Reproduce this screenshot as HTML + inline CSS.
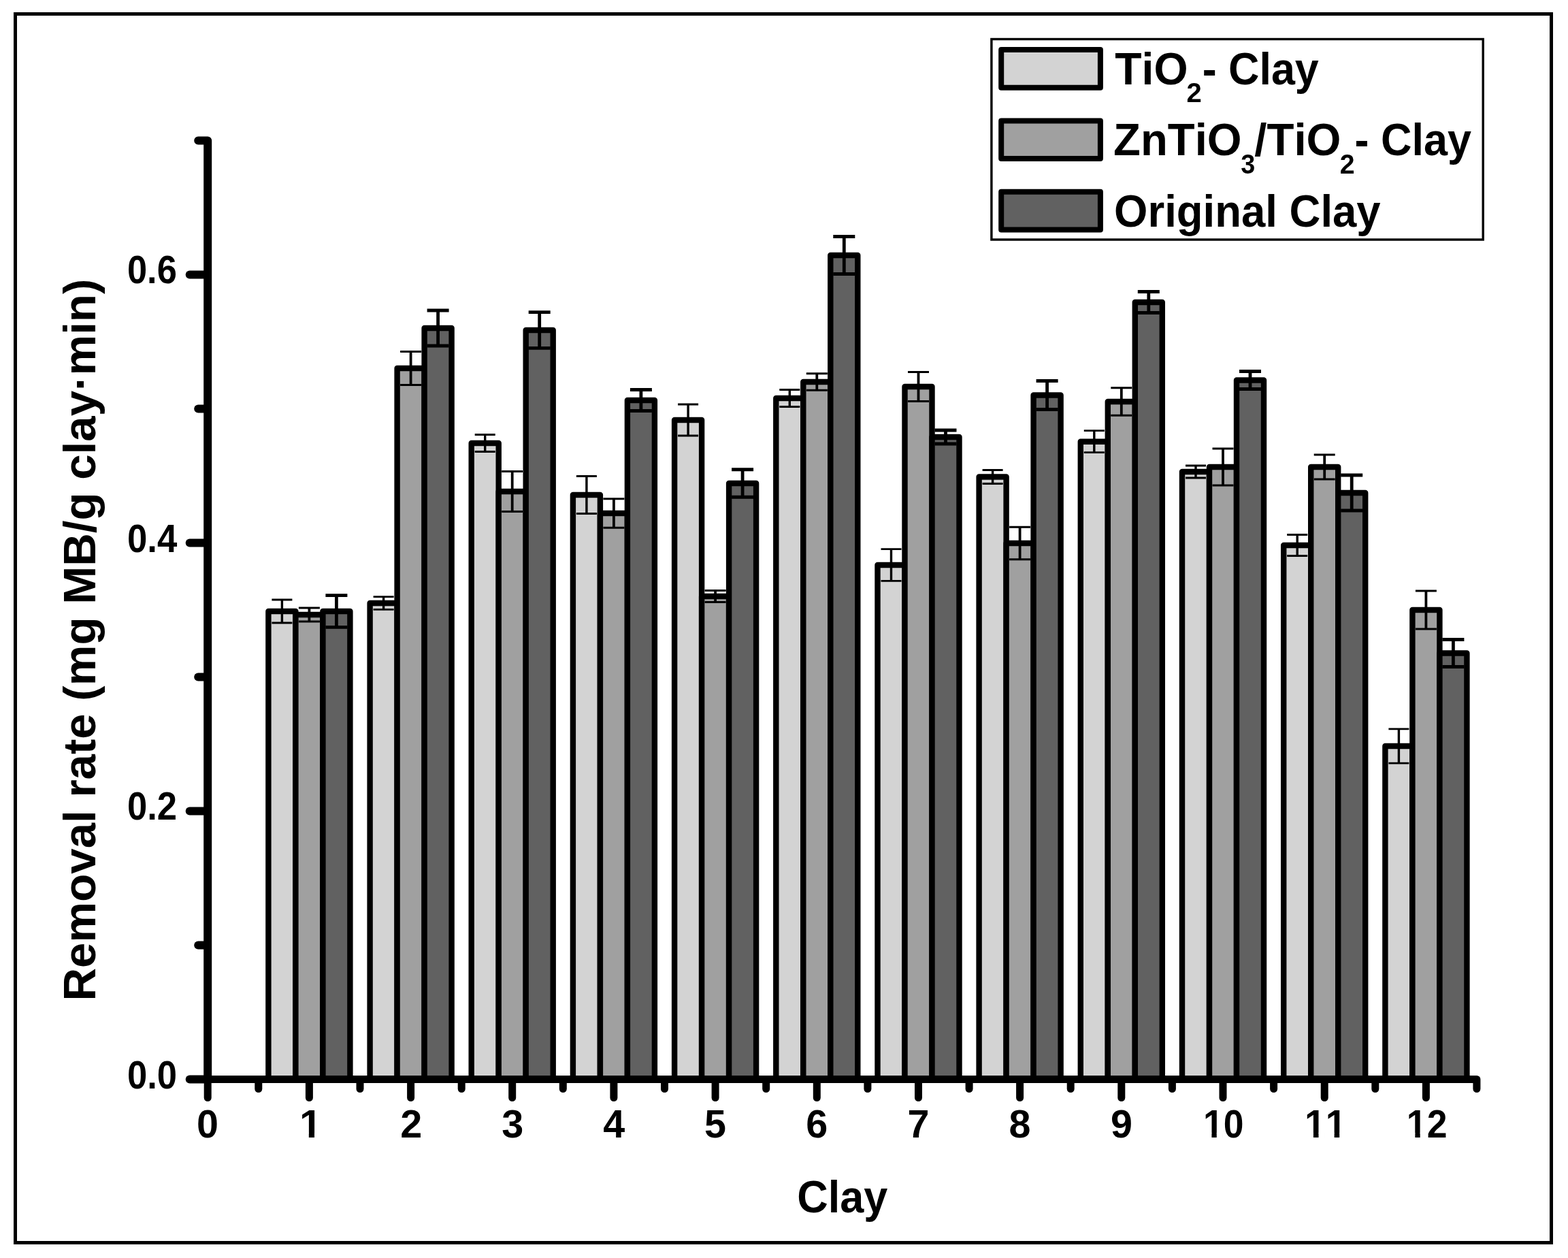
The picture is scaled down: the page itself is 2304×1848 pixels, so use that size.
<!DOCTYPE html>
<html><head><meta charset="utf-8"><title>Removal rate chart</title>
<style>html,body{margin:0;padding:0;background:#fff;}svg{display:block;}
text{font-family:"Liberation Sans",Arial,sans-serif;font-weight:bold;fill:#000;font-kerning:none;}</style></head><body>
<svg width="2304" height="1848" viewBox="0 0 2304 1848">
<rect x="0" y="0" width="2304" height="1848" fill="#fff"/>
<rect x="22.5" y="20.5" width="2257" height="1805" fill="none" stroke="#000" stroke-width="5"/>
<g stroke="#000" stroke-width="8.4" stroke-linejoin="round">
<rect x="394.4" y="898.0" width="40.0" height="687.5" fill="#d3d3d3"/>
<rect x="434.4" y="903.0" width="40.0" height="682.5" fill="#a0a0a0"/>
<rect x="474.4" y="898.0" width="40.0" height="687.5" fill="#616161"/>
<rect x="543.6" y="886.0" width="40.0" height="699.5" fill="#d3d3d3"/>
<rect x="583.6" y="541.0" width="40.0" height="1044.5" fill="#a0a0a0"/>
<rect x="623.6" y="482.0" width="40.0" height="1103.5" fill="#616161"/>
<rect x="692.7" y="651.0" width="40.0" height="934.5" fill="#d3d3d3"/>
<rect x="732.7" y="722.0" width="40.0" height="863.5" fill="#a0a0a0"/>
<rect x="772.7" y="485.0" width="40.0" height="1100.5" fill="#616161"/>
<rect x="841.9" y="727.0" width="40.0" height="858.5" fill="#d3d3d3"/>
<rect x="881.9" y="754.0" width="40.0" height="831.5" fill="#a0a0a0"/>
<rect x="921.9" y="588.0" width="40.0" height="997.5" fill="#616161"/>
<rect x="991.1" y="617.0" width="40.0" height="968.5" fill="#d3d3d3"/>
<rect x="1031.1" y="876.0" width="40.0" height="709.5" fill="#a0a0a0"/>
<rect x="1071.1" y="710.0" width="40.0" height="875.5" fill="#616161"/>
<rect x="1140.3" y="585.0" width="40.0" height="1000.5" fill="#d3d3d3"/>
<rect x="1180.3" y="561.0" width="40.0" height="1024.5" fill="#a0a0a0"/>
<rect x="1220.3" y="375.0" width="40.0" height="1210.5" fill="#616161"/>
<rect x="1289.5" y="830.0" width="40.0" height="755.5" fill="#d3d3d3"/>
<rect x="1329.5" y="568.0" width="40.0" height="1017.5" fill="#a0a0a0"/>
<rect x="1369.5" y="642.0" width="40.0" height="943.5" fill="#616161"/>
<rect x="1438.6" y="700.5" width="40.0" height="885.0" fill="#d3d3d3"/>
<rect x="1478.6" y="798.0" width="40.0" height="787.5" fill="#a0a0a0"/>
<rect x="1518.6" y="580.5" width="40.0" height="1005.0" fill="#616161"/>
<rect x="1587.8" y="648.7" width="40.0" height="936.8" fill="#d3d3d3"/>
<rect x="1627.8" y="590.0" width="40.0" height="995.5" fill="#a0a0a0"/>
<rect x="1667.8" y="444.0" width="40.0" height="1141.5" fill="#616161"/>
<rect x="1737.0" y="693.0" width="40.0" height="892.5" fill="#d3d3d3"/>
<rect x="1777.0" y="686.0" width="40.0" height="899.5" fill="#a0a0a0"/>
<rect x="1817.0" y="558.5" width="40.0" height="1027.0" fill="#616161"/>
<rect x="1886.2" y="801.0" width="40.0" height="784.5" fill="#d3d3d3"/>
<rect x="1926.2" y="686.0" width="40.0" height="899.5" fill="#a0a0a0"/>
<rect x="1966.2" y="724.0" width="40.0" height="861.5" fill="#616161"/>
<rect x="2035.4" y="1096.0" width="40.0" height="489.5" fill="#d3d3d3"/>
<rect x="2075.4" y="896.0" width="40.0" height="689.5" fill="#a0a0a0"/>
<rect x="2115.4" y="959.5" width="40.0" height="626.0" fill="#616161"/>
</g>
<g stroke="#000" fill="none">
<path stroke-width="3.4" d="M414.4 881.0V915.0"/><path stroke-width="2.8" d="M399.4 881.0H429.4M399.4 915.0H429.4"/>
<path stroke-width="3.4" d="M563.6 876.7V895.3"/><path stroke-width="2.8" d="M548.6 876.7H578.6M548.6 895.3H578.6"/>
<path stroke-width="3.4" d="M712.7 638.5V663.5"/><path stroke-width="2.8" d="M697.7 638.5H727.7M697.7 663.5H727.7"/>
<path stroke-width="3.4" d="M861.9 699.5V754.5"/><path stroke-width="2.8" d="M846.9 699.5H876.9M846.9 754.5H876.9"/>
<path stroke-width="3.4" d="M1011.1 594.0V640.0"/><path stroke-width="2.8" d="M996.1 594.0H1026.1M996.1 640.0H1026.1"/>
<path stroke-width="3.4" d="M1160.3 572.5V597.5"/><path stroke-width="2.8" d="M1145.3 572.5H1175.3M1145.3 597.5H1175.3"/>
<path stroke-width="3.4" d="M1309.5 806.6V853.4"/><path stroke-width="2.8" d="M1294.5 806.6H1324.5M1294.5 853.4H1324.5"/>
<path stroke-width="3.4" d="M1458.6 690.5V710.5"/><path stroke-width="2.8" d="M1443.6 690.5H1473.6M1443.6 710.5H1473.6"/>
<path stroke-width="3.4" d="M1607.8 632.7V664.7"/><path stroke-width="2.8" d="M1592.8 632.7H1622.8M1592.8 664.7H1622.8"/>
<path stroke-width="3.4" d="M1757.0 684.0V702.0"/><path stroke-width="2.8" d="M1742.0 684.0H1772.0M1742.0 702.0H1772.0"/>
<path stroke-width="3.4" d="M1906.2 785.5V816.5"/><path stroke-width="2.8" d="M1891.2 785.5H1921.2M1891.2 816.5H1921.2"/>
<path stroke-width="3.4" d="M2055.4 1070.8V1121.2"/><path stroke-width="2.8" d="M2040.4 1070.8H2070.4M2040.4 1121.2H2070.4"/>
</g>
<g stroke="#000" fill="none">
<path stroke-width="3.8" d="M454.4 893.0V913.0"/><path stroke-width="2.9" d="M438.9 893.0H469.9M438.9 913.0H469.9"/>
<path stroke-width="3.8" d="M603.6 516.5V565.5"/><path stroke-width="2.9" d="M588.1 516.5H619.1M588.1 565.5H619.1"/>
<path stroke-width="3.8" d="M752.7 692.5V751.5"/><path stroke-width="2.9" d="M737.2 692.5H768.2M737.2 751.5H768.2"/>
<path stroke-width="3.8" d="M901.9 732.7V775.3"/><path stroke-width="2.9" d="M886.4 732.7H917.4M886.4 775.3H917.4"/>
<path stroke-width="3.8" d="M1051.1 867.5V884.5"/><path stroke-width="2.9" d="M1035.6 867.5H1066.6M1035.6 884.5H1066.6"/>
<path stroke-width="3.8" d="M1200.3 548.7V573.3"/><path stroke-width="2.9" d="M1184.8 548.7H1215.8M1184.8 573.3H1215.8"/>
<path stroke-width="3.8" d="M1349.5 546.5V589.5"/><path stroke-width="2.9" d="M1334.0 546.5H1365.0M1334.0 589.5H1365.0"/>
<path stroke-width="3.8" d="M1498.6 774.3V821.7"/><path stroke-width="2.9" d="M1483.1 774.3H1514.1M1483.1 821.7H1514.1"/>
<path stroke-width="3.8" d="M1647.8 569.7V610.3"/><path stroke-width="2.9" d="M1632.3 569.7H1663.3M1632.3 610.3H1663.3"/>
<path stroke-width="3.8" d="M1797.0 659.0V713.0"/><path stroke-width="2.9" d="M1781.5 659.0H1812.5M1781.5 713.0H1812.5"/>
<path stroke-width="3.8" d="M1946.2 668.0V704.0"/><path stroke-width="2.9" d="M1930.7 668.0H1961.7M1930.7 704.0H1961.7"/>
<path stroke-width="3.8" d="M2095.4 868.0V924.0"/><path stroke-width="2.9" d="M2079.9 868.0H2110.9M2079.9 924.0H2110.9"/>
</g>
<g stroke="#000" fill="none">
<path stroke-width="4.8" d="M494.4 874.6V921.4"/><path stroke-width="4.9" d="M478.4 874.6H510.4M478.4 921.4H510.4"/>
<path stroke-width="4.8" d="M643.6 456.0V508.0"/><path stroke-width="4.9" d="M627.6 456.0H659.6M627.6 508.0H659.6"/>
<path stroke-width="4.8" d="M792.7 458.6V511.4"/><path stroke-width="4.9" d="M776.7 458.6H808.7M776.7 511.4H808.7"/>
<path stroke-width="4.8" d="M941.9 572.5V603.5"/><path stroke-width="4.9" d="M925.9 572.5H957.9M925.9 603.5H957.9"/>
<path stroke-width="4.8" d="M1091.1 689.7V730.3"/><path stroke-width="4.9" d="M1075.1 689.7H1107.1M1075.1 730.3H1107.1"/>
<path stroke-width="4.8" d="M1240.3 347.5V402.5"/><path stroke-width="4.9" d="M1224.3 347.5H1256.3M1224.3 402.5H1256.3"/>
<path stroke-width="4.8" d="M1389.5 632.0V652.0"/><path stroke-width="4.9" d="M1373.5 632.0H1405.5M1373.5 652.0H1405.5"/>
<path stroke-width="4.8" d="M1538.6 559.5V601.5"/><path stroke-width="4.9" d="M1522.6 559.5H1554.6M1522.6 601.5H1554.6"/>
<path stroke-width="4.8" d="M1687.8 428.5V459.5"/><path stroke-width="4.9" d="M1671.8 428.5H1703.8M1671.8 459.5H1703.8"/>
<path stroke-width="4.8" d="M1837.0 545.5V571.5"/><path stroke-width="4.9" d="M1821.0 545.5H1853.0M1821.0 571.5H1853.0"/>
<path stroke-width="4.8" d="M1986.2 698.0V750.0"/><path stroke-width="4.9" d="M1970.2 698.0H2002.2M1970.2 750.0H2002.2"/>
<path stroke-width="4.8" d="M2135.4 939.5V979.5"/><path stroke-width="4.9" d="M2119.4 939.5H2151.4M2119.4 979.5H2151.4"/>
</g>
<g stroke="#000" stroke-linecap="round" stroke-linejoin="round" fill="none">
<path stroke-width="12" d="M291.2 206.5H305.2V1585.5"/>
<path stroke-width="12" d="M299.2 1585.5H278.7"/>
<path stroke-width="12" d="M299.2 1388.5H291.2"/>
<path stroke-width="12" d="M299.2 1191.5H278.7"/>
<path stroke-width="12" d="M299.2 994.5H291.2"/>
<path stroke-width="12" d="M299.2 797.5H278.7"/>
<path stroke-width="12" d="M299.2 600.5H291.2"/>
<path stroke-width="12" d="M299.2 403.5H278.7"/>
<path stroke-width="11" d="M305.2 1585.5H2169.9V1599.5"/>
<path stroke-width="11" d="M305.2 1591.0V1612.5"/>
<path stroke-width="11" d="M379.8 1591.0V1599.5"/>
<path stroke-width="11" d="M454.4 1591.0V1612.5"/>
<path stroke-width="11" d="M529.0 1591.0V1599.5"/>
<path stroke-width="11" d="M603.6 1591.0V1612.5"/>
<path stroke-width="11" d="M678.2 1591.0V1599.5"/>
<path stroke-width="11" d="M752.7 1591.0V1612.5"/>
<path stroke-width="11" d="M827.3 1591.0V1599.5"/>
<path stroke-width="11" d="M901.9 1591.0V1612.5"/>
<path stroke-width="11" d="M976.5 1591.0V1599.5"/>
<path stroke-width="11" d="M1051.1 1591.0V1612.5"/>
<path stroke-width="11" d="M1125.7 1591.0V1599.5"/>
<path stroke-width="11" d="M1200.3 1591.0V1612.5"/>
<path stroke-width="11" d="M1274.9 1591.0V1599.5"/>
<path stroke-width="11" d="M1349.5 1591.0V1612.5"/>
<path stroke-width="11" d="M1424.1 1591.0V1599.5"/>
<path stroke-width="11" d="M1498.6 1591.0V1612.5"/>
<path stroke-width="11" d="M1573.2 1591.0V1599.5"/>
<path stroke-width="11" d="M1647.8 1591.0V1612.5"/>
<path stroke-width="11" d="M1722.4 1591.0V1599.5"/>
<path stroke-width="11" d="M1797.0 1591.0V1612.5"/>
<path stroke-width="11" d="M1871.6 1591.0V1599.5"/>
<path stroke-width="11" d="M1946.2 1591.0V1612.5"/>
<path stroke-width="11" d="M2020.8 1591.0V1599.5"/>
<path stroke-width="11" d="M2095.4 1591.0V1612.5"/>
</g>
<text transform="matrix(0.9163 0 0 1.0000 186.92 1599.30)" font-size="57.5">0.0</text>
<text transform="matrix(0.9156 0 0 1.0000 186.92 1204.20)" font-size="57.5">0.2</text>
<text transform="matrix(0.9179 0 0 1.0000 186.91 810.80)" font-size="57.5">0.4</text>
<text transform="matrix(0.9129 0 0 1.0000 186.92 416.30)" font-size="57.5">0.6</text>
<text transform="matrix(1.0000 0 0 1.0000 288.90 1671.00)" font-size="57.5">0</text>
<g clip-path="url(#c1_1)"><text transform="matrix(1.0357 0 0 1.0000 439.93 1671.00)" font-size="57.5">1</text></g>
<text transform="matrix(1.0000 0 0 1.0000 588.17 1671.00)" font-size="57.5">2</text>
<text transform="matrix(1.0000 0 0 1.0000 737.24 1671.00)" font-size="57.5">3</text>
<text transform="matrix(1.0000 0 0 1.0000 886.18 1671.00)" font-size="57.5">4</text>
<text transform="matrix(1.0000 0 0 1.0000 1035.03 1671.00)" font-size="57.5">5</text>
<text transform="matrix(1.0000 0 0 1.0000 1184.28 1671.00)" font-size="57.5">6</text>
<text transform="matrix(1.0000 0 0 1.0000 1333.50 1671.00)" font-size="57.5">7</text>
<text transform="matrix(1.0000 0 0 1.0000 1482.62 1671.00)" font-size="57.5">8</text>
<text transform="matrix(1.0000 0 0 1.0000 1631.90 1671.00)" font-size="57.5">9</text>
<g clip-path="url(#c1_2)"><text transform="matrix(0.9295 0 0 1.0000 1767.95 1671.00)" font-size="57.5">10</text></g>
<g clip-path="url(#c1_3)"><text transform="matrix(0.9603 0 0 1.0000 1917.03 1671.00)" font-size="57.5">11</text></g>
<g clip-path="url(#c1_4)"><text transform="matrix(0.9320 0 0 1.0000 2066.84 1671.00)" font-size="57.5">12</text></g>
<text transform="matrix(0.9406 0 0 1.0000 1171.22 1781.00)" font-size="67">Clay</text>
<text transform="matrix(0 -1.0033 1 0 140.00 1470.50)" font-size="67">Removal rate (mg MB/g clay·min)</text>
<rect x="1456.9" y="57.5" width="722.3" height="294.5" fill="#fff" stroke="#000" stroke-width="3.4"/>
<rect x="1471.2" y="73.0" width="145.7" height="55.7" fill="#d3d3d3" stroke="#000" stroke-width="8" stroke-linejoin="round"/>
<rect x="1471.2" y="177.4" width="145.7" height="55.7" fill="#a0a0a0" stroke="#000" stroke-width="8" stroke-linejoin="round"/>
<rect x="1471.2" y="281.8" width="145.7" height="55.7" fill="#616161" stroke="#000" stroke-width="8" stroke-linejoin="round"/>
<text transform="matrix(0.9612 0 0 1.0000 1638.18 124.10)" font-size="67">TiO</text>
<text transform="matrix(0.9660 0 0 1.0000 1743.61 149.80)" font-size="41.5">2</text>
<text transform="matrix(0.9383 0 0 1.0000 1766.64 124.10)" font-size="67">- Clay</text>
<text transform="matrix(0.9743 0 0 1.0000 1636.11 228.00)" font-size="67">ZnTiO</text>
<text transform="matrix(0.9114 0 0 1.0000 1823.33 254.60)" font-size="41.5">3</text>
<text transform="matrix(0.9763 0 0 1.0000 1843.26 228.00)" font-size="67">/TiO</text>
<text transform="matrix(0.9459 0 0 1.0000 1968.74 254.90)" font-size="41.5">2</text>
<text transform="matrix(0.9400 0 0 1.0000 1990.54 228.00)" font-size="67">- Clay</text>
<text transform="matrix(0.9476 0 0 1.0000 1637.10 333.30)" font-size="67">Original Clay</text>
<defs>
<clipPath id="c1_1"><path clip-rule="evenodd" d="M0 0H2304V1848H0ZM442.84 1664.13H453.83V1672.50H442.84ZM462.00 1664.13H472.21V1672.50H462.00Z"/></clipPath>
<clipPath id="c1_2"><path clip-rule="evenodd" d="M0 0H2304V1848H0ZM1770.56 1664.13H1780.42V1672.50H1770.56ZM1787.75 1664.13H1796.91V1672.50H1787.75Z"/></clipPath>
<clipPath id="c1_3"><path clip-rule="evenodd" d="M0 0H2304V1848H0ZM1919.72 1664.13H1929.91V1672.50H1919.72ZM1937.49 1664.13H1946.95V1672.50H1937.49ZM1950.43 1664.13H1960.62V1672.50H1950.43ZM1968.20 1664.13H1977.66V1672.50H1968.20Z"/></clipPath>
<clipPath id="c1_4"><path clip-rule="evenodd" d="M0 0H2304V1848H0ZM2069.45 1664.13H2079.34V1672.50H2069.45ZM2086.70 1664.13H2095.88V1672.50H2086.70Z"/></clipPath>
</defs>
</svg>
</body></html>
